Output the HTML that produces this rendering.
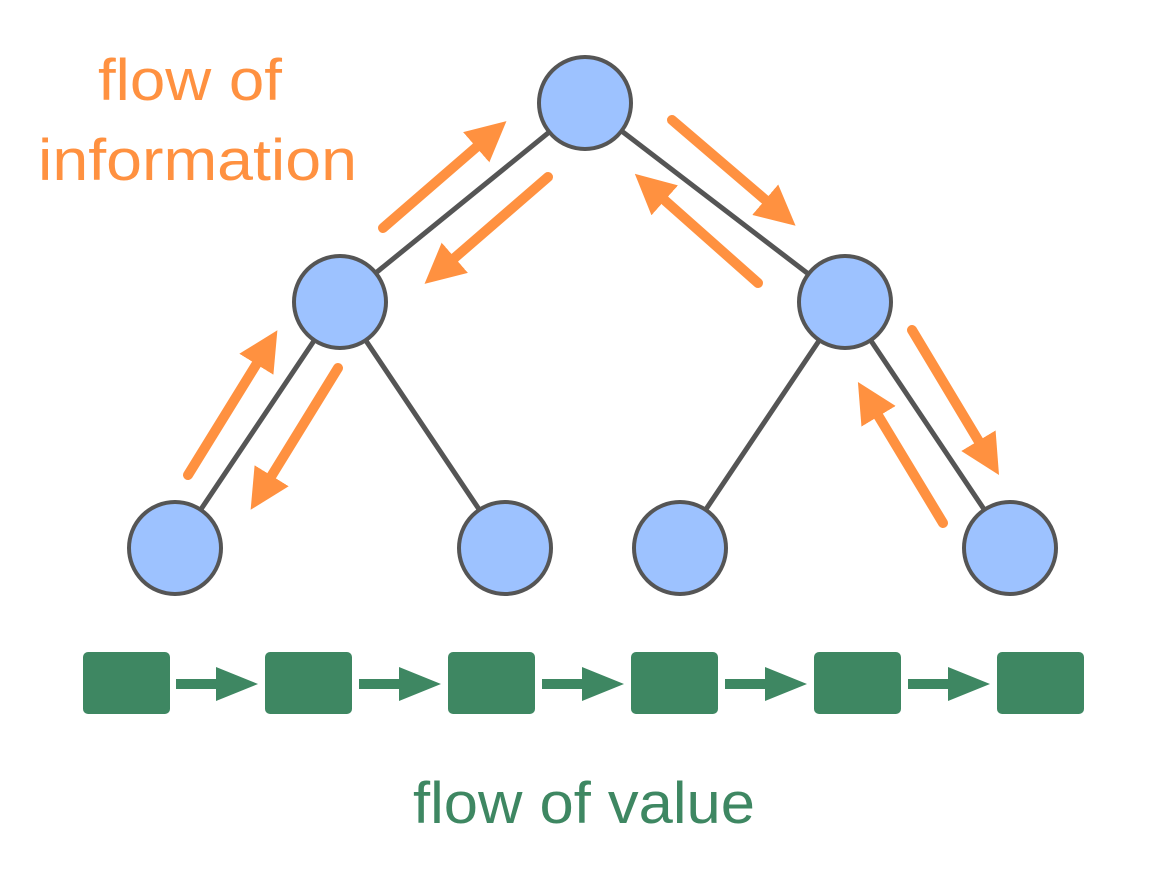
<!DOCTYPE html>
<html><head><meta charset="utf-8"><style>html,body{margin:0;padding:0;background:#fff}svg{display:block}</style></head>
<body>
<svg width="1166" height="894" viewBox="0 0 1166 894" xmlns="http://www.w3.org/2000/svg">
<defs>
<marker id="oa" markerWidth="4" markerHeight="4" refX="0.5" refY="2" orient="auto" markerUnits="strokeWidth"><path d="M0,0 L4,2 L0,4 z" fill="#FF9140"/></marker>
</defs>
<g stroke="#555" stroke-width="5" fill="none">
<line x1="585" y1="103" x2="340" y2="302"/>
<line x1="585" y1="103" x2="845" y2="302"/>
<line x1="340" y1="302" x2="175" y2="548"/>
<line x1="340" y1="302" x2="505" y2="548"/>
<line x1="845" y1="302" x2="680" y2="548"/>
<line x1="845" y1="302" x2="1010" y2="548"/>
</g>
<g fill="#9DC2FF" stroke="#555" stroke-width="4">
<circle cx="585" cy="103" r="46"/>
<circle cx="340" cy="302" r="46"/>
<circle cx="845" cy="302" r="46"/>
<circle cx="175" cy="548" r="46"/>
<circle cx="505" cy="548" r="46"/>
<circle cx="680" cy="548" r="46"/>
<circle cx="1010" cy="548" r="46"/>
</g>
<g stroke="#FF9140" stroke-width="10" stroke-linecap="round" marker-end="url(#oa)">
<line x1="383" y1="228" x2="480" y2="144"/>
<line x1="548" y1="177" x2="451" y2="261"/>
<line x1="672" y1="120" x2="769" y2="203"/>
<line x1="758" y1="283" x2="661" y2="197"/>
<line x1="188" y1="475" x2="259" y2="360"/>
<line x1="338" y1="368" x2="269" y2="480"/>
<line x1="912" y1="330" x2="981" y2="445"/>
<line x1="943" y1="523" x2="876" y2="412"/>
</g>
<g fill="#3E8762">
<rect x="83" y="652" width="87" height="62" rx="5"/>
<rect x="265" y="652" width="87" height="62" rx="5"/>
<rect x="448" y="652" width="87" height="62" rx="5"/>
<rect x="631" y="652" width="87" height="62" rx="5"/>
<rect x="814" y="652" width="87" height="62" rx="5"/>
<rect x="997" y="652" width="87" height="62" rx="5"/>
<g id="ga"><rect x="176" y="679" width="42" height="10"/><path d="M216,667 L258,684 L216,701 z"/></g>
<use href="#ga" x="183"/><use href="#ga" x="366"/><use href="#ga" x="549"/><use href="#ga" x="732"/>
</g>
<g font-family="Liberation Sans, sans-serif" font-size="58">
<text x="98" y="100" textLength="184" lengthAdjust="spacingAndGlyphs" fill="#FF9140">flow of</text>
<text x="38" y="180" textLength="319" lengthAdjust="spacingAndGlyphs" fill="#FF9140">information</text>
<text x="413" y="823" textLength="342" lengthAdjust="spacingAndGlyphs" fill="#3E8762">flow of value</text>
</g>
</svg>
</body></html>
